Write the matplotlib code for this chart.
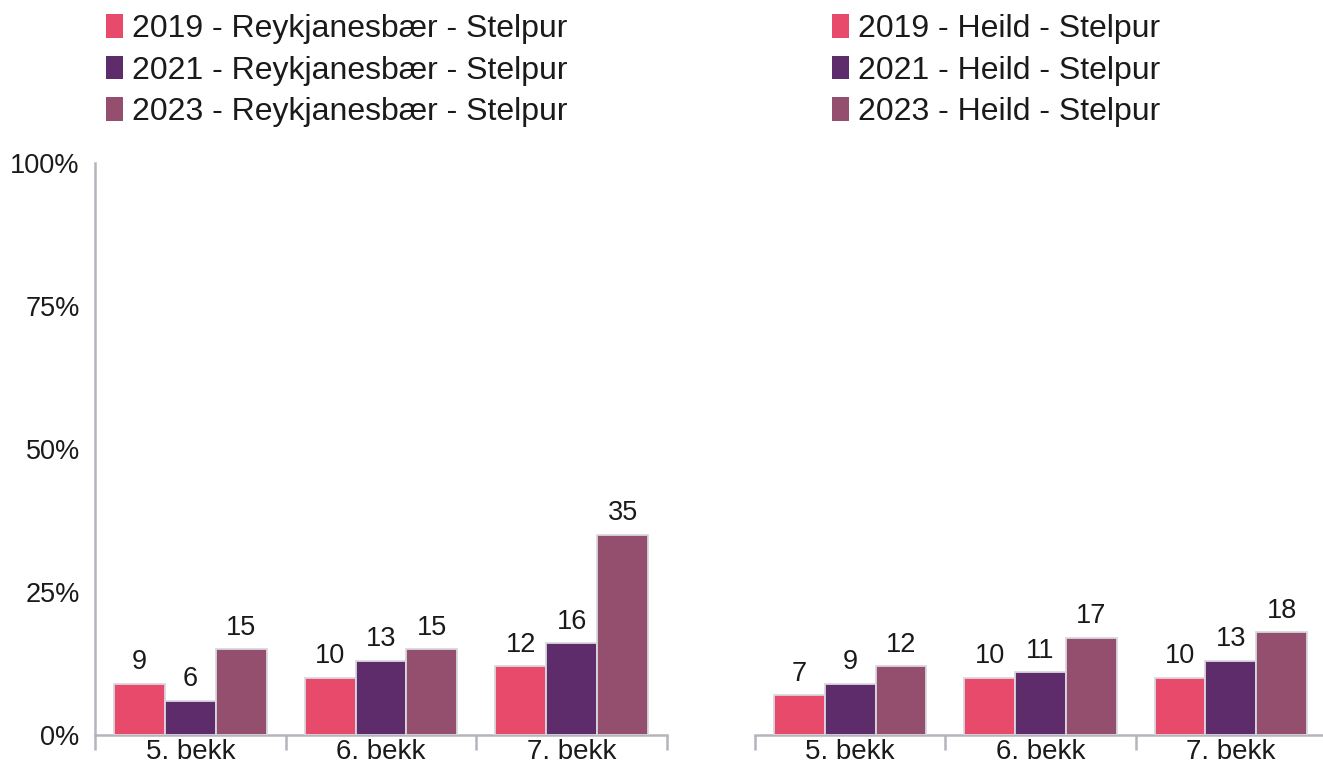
import matplotlib
matplotlib.use("Agg")
import matplotlib.pyplot as plt
import numpy as np
from matplotlib.patches import Patch

plt.rcParams['font.family'] = ['Liberation Sans', 'DejaVu Sans']

categories = ["5. bekk", "6. bekk", "7. bekk"]
years = ["2019", "2021", "2023"]
reykjanesbaer = [[9, 10, 12], [6, 13, 16], [15, 15, 35]]
heild = [[7, 10, 10], [9, 11, 13], [12, 17, 18]]
left_labels = [f"{y} - Reykjanesbær - Stelpur" for y in years]
right_labels = [f"{y} - Heild - Stelpur" for y in years]
yticks = [0, 25, 50, 75, 100]
ytick_labels = ["0%", "25%", "50%", "75%", "100%"]

colors = ["#E84A6B", "#5E2C6B", "#944F6E"]
edge = "#D8D8DE"
spine_c = "#B4B4BC"
txt_c = "#1a1a1a"

W, H = 1323, 765
fig = plt.figure(figsize=(W / 100, H / 100), dpi=100)

def px_axes(x0, y_top, x1, y_bot):
    return fig.add_axes([x0 / W, 1 - y_bot / H, (x1 - x0) / W, (y_bot - y_top) / H])

axL = px_axes(95, 163, 667, 735)
axR = px_axes(755, 163, 1326, 735)

bw = 0.267
x = np.arange(len(categories))
for ax, data, show_y in [(axL, reykjanesbaer, True), (axR, heild, False)]:
    for i, vals in enumerate(data):
        pos = x + (i - 1) * bw
        bars = ax.bar(pos, vals, width=bw, color=colors[i], edgecolor=edge, linewidth=1.3, zorder=3)
        for b, v in zip(bars, vals):
            ax.annotate(str(v), (b.get_x() + b.get_width() / 2, v), xytext=(0, 6),
                        textcoords="offset points", ha="center", va="bottom", fontsize=19.5, color=txt_c)
    ax.set_xlim(-0.5, 2.5)
    ax.set_ylim(0, 100)
    ax.set_xticks(x)
    ax.set_xticklabels(categories, fontsize=20, color=txt_c)
    ax.tick_params(axis="x", which="major", length=0, pad=3)
    ax.set_xticks([-0.5, 0.5, 1.5, 2.5], minor=True)
    ax.tick_params(axis="x", which="minor", length=11, width=1.8, color=spine_c, direction="out")
    for s in ["top", "right"]:
        ax.spines[s].set_visible(False)
    ax.spines["bottom"].set_color(spine_c)
    ax.spines["bottom"].set_linewidth(1.8)
    if show_y:
        ax.spines["left"].set_color(spine_c)
        ax.spines["left"].set_linewidth(1.8)
        ax.set_yticks(yticks)
        ax.set_yticklabels(ytick_labels, fontsize=19.5, color=txt_c)
        ax.tick_params(axis="y", length=0, pad=11)
    else:
        ax.spines["left"].set_visible(False)
        ax.set_yticks([])

for labels, xpx in [(left_labels, 106), (right_labels, 832)]:
    handles = [Patch(facecolor=c, edgecolor="none") for c in colors]
    fig.legend(handles, labels, loc="upper left", bbox_to_anchor=(xpx / W, 1 - 14 / H),
               frameon=False, fontsize=23, handlelength=0.52, handleheight=0.75,
               handletextpad=0.3, labelspacing=0.36, borderpad=0, borderaxespad=0,
               labelcolor=txt_c)

fig.savefig("out.png", dpi=100)
